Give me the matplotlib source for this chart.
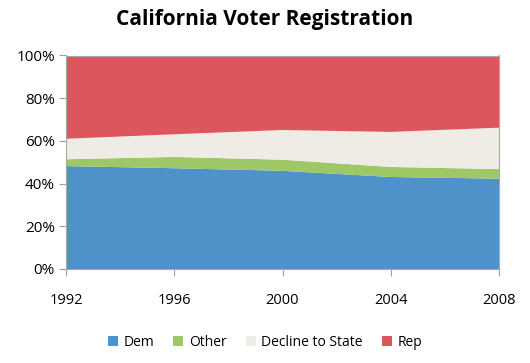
import numpy as np
import matplotlib.pyplot as plt
from matplotlib.patches import Patch

YEARS = [1992, 1996, 2000, 2004, 2008]
DEM = [48.2, 47.2, 46.0, 43.1, 42.3]
OTHER = [3.2, 5.3, 5.2, 4.7, 4.5]
DECLINE = [9.6, 10.6, 13.9, 16.4, 19.4]
REP = [100 - d - o - s for d, o, s in zip(DEM, OTHER, DECLINE)]

LABELS = ["Dem", "Other", "Decline to State", "Rep"]
COLORS = ["#4F92C9", "#9DC865", "#EFECE5", "#DC565E"]

plt.rcParams["font.family"] = ["Open Sans", "DejaVu Sans"]

fig = plt.figure(figsize=(5.30, 3.63), dpi=100)
ax = fig.add_axes([66 / 530, 1 - 269 / 363, 433 / 530, 213.5 / 363])

ax.stackplot(YEARS, DEM, OTHER, DECLINE, REP, colors=COLORS, linewidth=0)

ax.set_xlim(YEARS[0], YEARS[-1])
ax.set_ylim(0, 100)
ax.set_xticks(YEARS)
ax.set_xticklabels([str(y) for y in YEARS], fontsize=10.5)
ax.set_yticks(np.arange(0, 101, 20))
ax.set_yticklabels([f"{v}%" for v in range(0, 101, 20)], fontsize=11)
ax.tick_params(axis="x", length=5, color="#A0A0A0", pad=12)
ax.tick_params(axis="y", length=5, color="#A0A0A0", pad=3)
for s in ax.spines.values():
    s.set_color("#A8A8A8")
    s.set_linewidth(0.8)

fig.text(0.5, 1 - 20 / 363, "California Voter Registration", ha="center", va="center",
         fontsize=15, fontweight="bold")

handles = [Patch(facecolor=c, edgecolor="none") for c in COLORS]
fig.legend(handles, LABELS, loc="center", bbox_to_anchor=(0.5, 1 - 342 / 363), ncol=4,
           frameon=False, fontsize=10, handlelength=0.7, handleheight=0.7,
           handletextpad=0.4, columnspacing=1.4)

fig.savefig("out.png", dpi=100)
